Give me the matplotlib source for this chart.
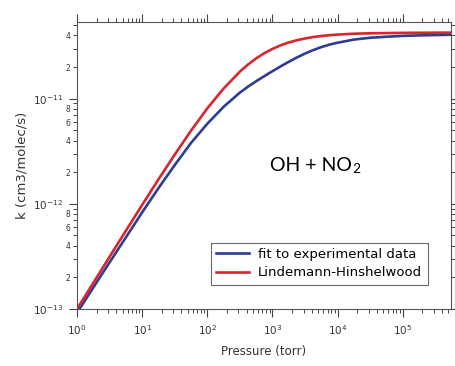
import numpy as np
import matplotlib
matplotlib.use('Agg')
import matplotlib.pyplot as plt
from matplotlib.ticker import FixedLocator, FixedFormatter, NullFormatter

# values (log10 of pressure in torr)
log_p = [0.0, 0.25, 0.5, 0.75, 1.0, 1.25, 1.5, 1.75, 2.0, 2.25, 2.5, 2.625,
         2.75, 2.875, 3.0, 3.125, 3.25, 3.375, 3.5, 3.625, 3.75, 3.875,
         4.0, 4.25, 4.5, 4.75, 5.0, 5.25, 5.5, 5.74]

k_fit = [0.92e-13, 1.6e-13, 2.78e-13, 4.8e-13, 8.3e-13, 1.41e-12, 2.34e-12,
         3.8e-12, 5.78e-12, 8.38e-12, 1.143e-11, 1.303e-11, 1.466e-11, 1.64e-11,
         1.828e-11, 2.03e-11, 2.244e-11, 2.466e-11, 2.69e-11, 2.9e-11,
         3.097e-11, 3.27e-11, 3.41e-11, 3.65e-11, 3.8e-11, 3.885e-11,
         3.96e-11, 4.0e-11, 4.03e-11, 4.06e-11]

k_lh = [1.0e-13, 1.77e-13, 3.14e-13, 5.55e-13, 9.77e-13, 1.71e-12, 2.94e-12,
        4.97e-12, 8.1e-12, 1.25e-11, 1.81e-11, 2.116e-11, 2.42e-11, 2.71e-11,
        2.98e-11, 3.22e-11, 3.43e-11, 3.6e-11, 3.74e-11, 3.86e-11, 3.95e-11,
        4.02e-11, 4.07e-11, 4.15e-11, 4.19e-11, 4.21e-11, 4.23e-11, 4.24e-11,
        4.25e-11, 4.25e-11]

pressure = 10 ** np.array(log_p)

plt.rcParams['font.family'] = ['DejaVu Sans']
plt.rcParams['mathtext.default'] = 'regular'

fig = plt.figure(figsize=(4.56, 3.66), dpi=100)
ax = fig.add_axes([0.169, 0.156, 0.820, 0.784])

ax.plot(pressure, k_fit, color='#2c3e94', linewidth=1.9, label='ﬁt to experimental data')
ax.plot(pressure, k_lh, color='#d9252c', linewidth=1.9, label='Lindemann-Hinshelwood')

ax.set_xscale('log')
ax.set_yscale('log')
ax.set_xlim(1, 10 ** 5.74)
ax.set_ylim(1e-13, 10 ** -10.27)

# x ticks
ax.xaxis.set_major_locator(FixedLocator([10.0 ** i for i in range(6)]))
ax.xaxis.set_major_formatter(FixedFormatter(['$10^{%d}$' % i for i in range(6)]))
xminor = [m * 10.0 ** d for d in range(6) for m in range(2, 10)]
ax.xaxis.set_minor_locator(FixedLocator(xminor))
ax.xaxis.set_minor_formatter(NullFormatter())

# y ticks, with 2/4/6/8 labels
ax.yaxis.set_major_locator(FixedLocator([1e-13, 1e-12, 1e-11]))
ax.yaxis.set_major_formatter(FixedFormatter(['$10^{-13}$', '$10^{-12}$', '$10^{-11}$']))
yminor = []
ylabels = []
for d in (-13, -12, -11):
    for m in range(2, 10):
        yminor.append(m * 10.0 ** d)
        ylabels.append(str(m) if m % 2 == 0 else '')
ax.yaxis.set_minor_locator(FixedLocator(yminor))
ax.yaxis.set_minor_formatter(FixedFormatter(ylabels))

ax.tick_params(which='both', direction='out', top=True, right=True,
               colors='#444444', labelcolor='#333333')
ax.tick_params(which='major', length=6, width=0.8, labelsize=7.5, pad=4)
ax.tick_params(which='minor', length=3, width=0.7, labelsize=5.5, pad=2)
for s in ax.spines.values():
    s.set_color('#555555')
    s.set_linewidth(0.8)

ax.set_xlabel('Pressure (torr)', fontsize=8.5, color='#333333', labelpad=6)
ax.set_ylabel('k (cm3/molec/s)', fontsize=9.5, color='#333333', labelpad=3)

# OH + NO2 label, subscript drawn as its own text
t = ax.text(0.515, 0.50, 'OH + NO', transform=ax.transAxes, fontsize=14,
            family=['Lato', 'DejaVu Sans'], ha='left', va='center')
fig.canvas.draw()
bb = t.get_window_extent()
ax.annotate('2', xy=(bb.x1, bb.y0), xycoords='figure pixels',
            xytext=(0.5, -1), textcoords='offset points', fontsize=10,
            family=['Lato', 'DejaVu Sans'], ha='left', va='bottom')

leg = ax.legend(loc='lower right', bbox_to_anchor=(0.955, 0.062), fontsize=9.5,
                frameon=True, fancybox=False, handlelength=2.5,
                handletextpad=0.7, borderpad=0.4, labelspacing=0.4)
leg.get_frame().set_edgecolor('#444444')
leg.get_frame().set_linewidth(0.8)

fig.savefig('out.png', dpi=100)
